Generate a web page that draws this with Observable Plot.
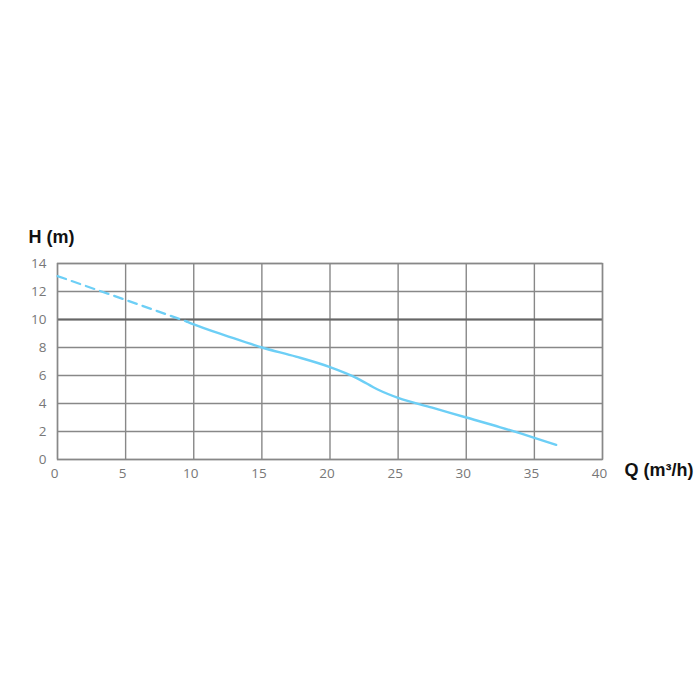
<!DOCTYPE html>
<html><head><meta charset="utf-8">
<script src="https://cdn.jsdelivr.net/npm/d3@7"></script>
<script src="https://cdn.jsdelivr.net/npm/@observablehq/plot@0.6"></script>
<style>body{margin:0;background:#fff;} svg{display:block;}</style>
</head><body><div id="chart"></div>
<script>
const xTicks = [0,5,10,15,20,25,30,35,40];
const yTicks = [0,2,4,6,8,10,12,14];
const dashedQ = [0, 5, 9.5];
const dashedH = [13.1, 11.4, 9.85];
const solidQ = [9.5, 10, 12.5, 15, 17.5, 20, 22, 23.5, 25, 27.5, 30, 32.5, 35, 36.6];
const solidH = [9.85, 9.65, 8.8, 8.0, 7.35, 6.6, 5.8, 5.0, 4.4, 3.7, 3.0, 2.3, 1.55, 1.05];
const refLine = 10;
const yTitle = "H (m)";
const xTitle = "Q (m³/h)";

const dashed = dashedQ.map((q,i)=>({q, h: dashedH[i]}));
const solid = solidQ.map((q,i)=>({q, h: solidH[i]}));

const chart = Plot.plot({
  width: 700, height: 700,
  marginLeft: 57, marginRight: 98, marginTop: 263, marginBottom: 241,
  style: {fontFamily: "'Open Sans', sans-serif", fontSize: "13.5px", color: "#777", background: "#fff", overflow: "visible"},
  x: {domain: [0,40], ticks: xTicks, tickSize: 0, tickPadding: 9, label: null},
  y: {domain: [0,14], ticks: yTicks, tickSize: 0, tickPadding: 11, label: null},
  marks: [
    Plot.gridX(xTicks, {stroke: "#888", strokeOpacity: 1, strokeWidth: 1.4}),
    Plot.gridY(yTicks, {stroke: "#888", strokeOpacity: 1, strokeWidth: 1.4}),
    Plot.ruleY([refLine], {stroke: "#666", strokeWidth: 2.2}),
    Plot.frame({stroke: "#888", strokeWidth: 1.4}),
    Plot.axisX(xTicks, {tickSize: 0, tickPadding: 9, dx: -3, label: null}),
    Plot.axisY(yTicks, {tickSize: 0, tickPadding: 11, label: null}),
    Plot.line(dashed, {x: "q", y: "h", stroke: "#6dcff6", strokeWidth: 2.2, strokeDasharray: "9,6", curve: "linear"}),
    Plot.line(solid, {x: "q", y: "h", stroke: "#6dcff6", strokeWidth: 2.4, curve: "monotone-x"}),
    Plot.text([yTitle], {frameAnchor: "top-left", dx: -29, dy: -33, text: d=>d, textAnchor: "start", fontSize: 18, fontWeight: "bold", fill: "#111", fontFamily: "Arial, 'Liberation Sans', sans-serif"}),
    Plot.text([xTitle], {frameAnchor: "bottom-right", dx: 22, dy: 16, text: d=>d, textAnchor: "start", fontSize: 18, fontWeight: "bold", fill: "#111", fontFamily: "Arial, 'Liberation Sans', sans-serif"})
  ]
});
document.getElementById("chart").append(chart);
</script>
</body></html>
